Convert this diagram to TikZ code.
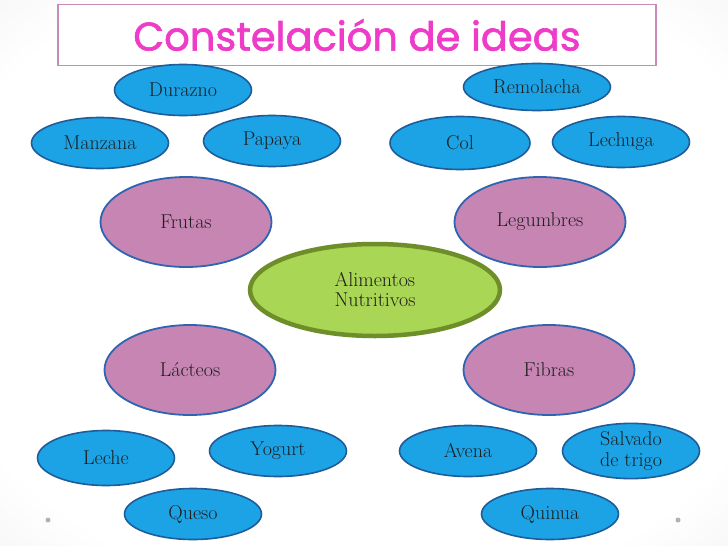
\documentclass[tikz,border=0pt]{standalone}
\usepackage{fontspec}
\newfontfamily\titlefont[FakeBold=1.6]{Poppins}
\usetikzlibrary{shapes.geometric}
\pgfdeclarelayer{background}
\pgfsetlayers{background,main}
\definecolor{bgout}{HTML}{E6E6E6}
\definecolor{bgcorner}{HTML}{D4D4D4}
\definecolor{titleborder}{HTML}{C88AB8}
\definecolor{titletext}{HTML}{EE3CC9}
\definecolor{bluefill}{HTML}{1BA3E6}
\definecolor{blueborder}{HTML}{1F5C99}
\definecolor{pinkfill}{HTML}{C785B4}
\definecolor{pinkborder}{HTML}{2E64B0}
\definecolor{greenfill}{HTML}{A9D655}
\definecolor{greenborder}{HTML}{6E8E2A}
\definecolor{linkcol}{HTML}{6E7C98}
\definecolor{txt}{HTML}{1E1E1E}
\pgfdeclareradialshading{bgshade}{\pgfpoint{0bp}{0bp}}{%
  color(0bp)=(white); color(30bp)=(white); color(50bp)=(bgout); color(72bp)=(bgcorner)}
\tikzset{
  leaf/.style={ellipse, draw=blueborder, fill=bluefill, line width=1.6pt,
    minimum width=137pt, minimum height=51pt, inner sep=0pt,
    font=\fontsize{20}{21}\selectfont, text=txt, align=center},
  cat/.style={ellipse, draw=pinkborder, fill=pinkfill, line width=1.8pt,
    minimum width=171pt, minimum height=90pt, inner sep=0pt,
    font=\fontsize{20}{22}\selectfont, text=txt},
  hub/.style={ellipse, draw=greenborder, fill=greenfill, line width=4.5pt,
    minimum width=250pt, minimum height=92pt, inner sep=0pt,
    font=\fontsize{20}{20}\selectfont, text=txt, align=left},
  link/.style={draw=linkcol, line width=0.7pt},
  dotmark/.style={circle, fill=gray!60, minimum size=5pt, inner sep=0pt}
}
\begin{document}
\begin{tikzpicture}[x=1pt,y=-1pt]
\useasboundingbox (0,0) rectangle (728,546);
\shade[shading=bgshade] (0,0) rectangle (728,546);
% title
\node[draw=titleborder, line width=1.5pt, fill=white, minimum width=598pt,
  minimum height=61pt, inner sep=0pt] (title) at (357,35)
  {\titlefont\fontsize{40}{44}\selectfont\color{titletext}Constelación de ideas};
% hub and categories
\node[hub] (ali) at (375,290) {Alimentos\\Nutritivos};
\node[cat] (fru) at (186,222) {Frutas};
\node[cat] (leg) at (540,222) {Legumbres};
\node[cat] (lac) at (190,370) {Lácteos};
\node[cat] (fib) at (549,370) {Fibras};
% leaves
\node[leaf] (dur) at (183,90) {Durazno};
\node[leaf] (man) at (100,143) {Manzana};
\node[leaf] (pap) at (272,141) {Papaya};
\node[leaf, minimum width=147pt, minimum height=47pt] (rem) at (537,87) {Remolacha};
\node[leaf, minimum width=140pt, minimum height=53pt] (col) at (460,143) {Col};
\node[leaf] (lec) at (621,142) {Lechuga};
\node[leaf, minimum height=55pt] (lch) at (106,458) {Leche};
\node[leaf] (yog) at (278,451) {Yogurt};
\node[leaf] (que) at (193,514) {Queso};
\node[leaf] (ave) at (468,451) {Avena};
\node[leaf] (sal) at (631,451) {Salvado\\de trigo};
\node[leaf] (qui) at (550,514) {Quinua};
% dots
\node[dotmark] (d1) at (48,520) {};
\node[dotmark] (d2) at (678,520) {};
% connectors
\begin{pgfonlayer}{background}
\draw[link] (dur.south) -- (fru.north);
\draw[link] (man.-72) -- (fru.north);
\draw[link] (pap.-100) -- (fru.north);
\draw[link] (rem.south) -- (leg.north);
\draw[link] (col.-80) -- (leg.north);
\draw[link] (lec.-108) -- (leg.north);
\draw[link] (fru.east) -- (ali.north);
\draw[link] (leg.west) -- (ali.north);
\draw[link] (ali.south) -- (lac.east);
\draw[link] (ali.south) -- (fib.west);
\draw[link] (lac.south) -- (lch.80);
\draw[link] (lac.south) -- (yog.98);
\draw[link] (lac.south) -- (que.north);
\draw[link] (fib.south) -- (ave.72);
\draw[link] (fib.south) -- (sal.105);
\draw[link] (fib.south) -- (qui.north);
\end{pgfonlayer}
\end{tikzpicture}
\end{document}
